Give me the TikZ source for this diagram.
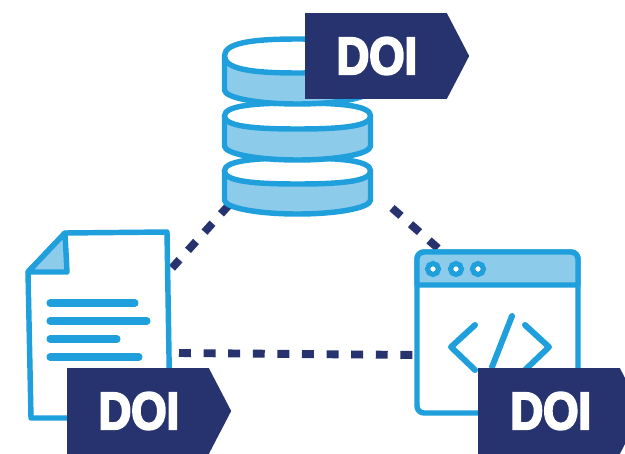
\documentclass[tikz,border=0pt]{standalone}
\usepackage{fontspec}
\usetikzlibrary{shapes.symbols}
\newfontfamily\doifont[FakeBold=4,FakeStretch=0.86]{Liberation Sans Bold}
\definecolor{doiblue}{HTML}{27336F}
\definecolor{iconblue}{HTML}{1FA0DC}
\definecolor{iconlight}{HTML}{8DCBEA}
\tikzset{
  icon/.style={draw=iconblue,line width=3.1pt,line join=round,fill=white},
  iconfill/.style={icon,fill=iconlight},
  textline/.style={draw=iconblue,line width=4pt,line cap=round},
  codeline/.style={draw=iconblue,line width=3.4pt,line cap=round,line join=round},
  doilink/.style={draw=doiblue,line width=4.5pt,dash pattern=on 6.8pt off 7.2pt},
  doitag/.style={shape=signal,signal to=east,signal pointer angle=125,fill=doiblue,
    text=white,inner sep=0pt,minimum width=3.28cm,minimum height=1.72cm,
    font=\doifont\fontsize{30}{30}\selectfont}
}
\begin{document}
\begin{tikzpicture}[x=0.02cm,y=-0.02cm]
\clip (0,0) rectangle (625,453);

\coordinate (dbleft) at (229,205);
\coordinate (dbright) at (392,208);
\coordinate (paperedge) at (172,268);
\coordinate (paperside) at (179,353);
\coordinate (codetop) at (440,250);
\coordinate (codeside) at (417,355);

\draw[doilink] (dbleft) -- (paperedge);
\draw[doilink] (dbright) -- (codetop);
\draw[doilink] (paperside) -- (codeside);

\foreach \cy/\side/\ry in {171/29/13,116/30/13,56/34/17}{
  \path[iconfill] (224.5,\cy) -- ++(0,\side) arc[start angle=180,end angle=0,x radius=73,y radius=14]
    -- ++(0,-\side) -- cycle;
  \path[icon] (224.5,\cy) .. controls (224.5,\cy-.75*\ry) and (250,\cy-\ry) .. (297.5,\cy-\ry)
    .. controls (345,\cy-\ry) and (370.5,\cy-.75*\ry) .. (370.5,\cy)
    .. controls (370.5,\cy+.75*\ry) and (345,\cy+\ry) .. (297.5,\cy+\ry)
    .. controls (250,\cy+\ry) and (224.5,\cy+.75*\ry) .. (224.5,\cy) -- cycle;
}

\path[icon] (65,233) -- (167,232) -- (170,418) -- (31,418) -- (28,272) -- cycle;
\path[iconfill] (65,233) -- (67,272) -- (28,272) -- cycle;
\draw[textline] (50,303) -- (135,303);
\draw[textline] (50,321) -- (147,321);
\draw[textline] (50,339) -- (117,339);
\draw[textline] (50,357) -- (139,357);

\path[icon,rounded corners=4pt] (417,252) rectangle (578,413);
\path[iconfill] (417,285) [rounded corners=4pt] -- (417,252) -- (578,252) [sharp corners] -- (578,285) -- cycle;
\foreach \cx in {433,456,478}{
  \path[draw=iconblue,line width=2.9pt,fill=white] (\cx,269) circle[radius=5.5];
}
\draw[codeline] (475,325) -- (451,347) -- (475,370);
\draw[codeline] (525,325) -- (549,347) -- (525,370);
\draw[codeline] (512,316) -- (492,367);

\node[doitag] (tagdata) at (376,56) {\kern 1pt DOI};
\node[doitag] (tagpaper) at (138,411) {\kern 1pt DOI};
\node[doitag] (tagcode) at (549,411) {\kern 2pt DOI};
\end{tikzpicture}
\end{document}
